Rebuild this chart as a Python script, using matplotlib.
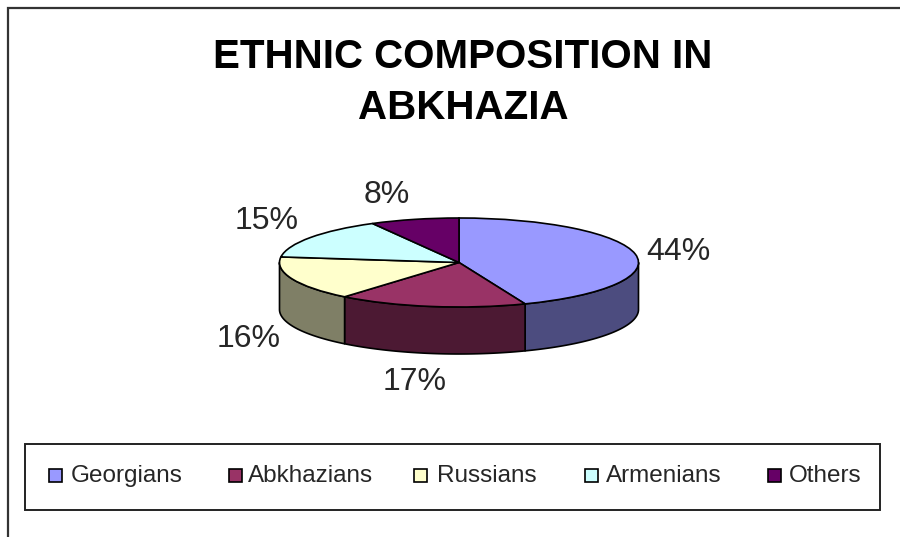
import numpy as np
import matplotlib
matplotlib.use("Agg")
import matplotlib.pyplot as plt
from matplotlib.patches import Rectangle

plt.rcParams["font.family"] = ["Liberation Sans", "DejaVu Sans"]

title_lines = ["ETHNIC COMPOSITION IN", "ABKHAZIA"]
groups = ["Georgians", "Abkhazians", "Russians", "Armenians", "Others"]
shares = [44, 17, 16, 15, 8]
top_colors = ["#9999FF", "#993366", "#FFFFCC", "#CCFFFF", "#660066"]
side_colors = ["#4C4C7F", "#4C1933", "#7F7F66", "#667F7F", "#330033"]

W, H = 900, 537
fig = plt.figure(figsize=(W / 100, H / 100), dpi=100)

# page layer in pixel coordinates
page = fig.add_axes([0, 0, 1, 1])
page.set_xlim(0, W)
page.set_ylim(H, 0)
page.axis("off")

# outer chart border, only left and top are inside the crop
page.plot([8, 8, W], [H, 8, 8], color="#333333", lw=1.6, solid_joinstyle="miter")

page.text(463, 68, title_lines[0], ha="center", va="baseline", fontsize=29,
          fontweight="bold", color="black")
page.text(463, 119, title_lines[1], ha="center", va="baseline", fontsize=29,
          fontweight="bold", color="black")

# pie axes: unit circle squashed into the disc ellipse
cx, cy, rx, ry = 459, 262.5, 179.5, 44.5
depth = 47 / ry
pie_ax = fig.add_axes([(cx - rx) / W, 1 - (cy + ry + depth * ry) / H,
                       2 * rx / W, (2 * ry + depth * ry) / H])

# side wall, clockwise angle measured from 12 o'clock, front half only
edges = np.radians(np.cumsum([0] + shares) * 3.6)
for i in range(len(shares)):
    a = max(edges[i], np.pi / 2)
    b = min(edges[i + 1], 3 * np.pi / 2)
    if a >= b:
        continue
    t = np.linspace(a, b, 60)
    x = np.sin(t)
    y = np.cos(t)
    pie_ax.fill(np.r_[x, x[::-1]], np.r_[y, y[::-1] - depth],
                facecolor=side_colors[i], edgecolor="black", lw=1.2,
                joinstyle="round", clip_on=False)

pie_ax.pie(shares, colors=top_colors, startangle=90, counterclock=False,
           radius=1, wedgeprops={"edgecolor": "black", "linewidth": 1.2},
           frame=True)
pie_ax.set_aspect("auto")
pie_ax.set_xlim(-1, 1)
pie_ax.set_ylim(-1 - depth, 1)
pie_ax.axis("off")
for p in pie_ax.patches:
    p.set_clip_on(False)

# value labels around the disc
label_x = [678, 415, 249, 267, 387]
label_y = [260, 390, 347, 229, 203]
for v, lx, ly in zip(shares, label_x, label_y):
    page.text(lx, ly, f"{v}%", ha="center", va="baseline", fontsize=23,
              color="#262626")

# legend box
page.add_patch(Rectangle((25, 444), 855, 66, facecolor="white",
                         edgecolor="#222222", lw=1.4))
swatch_x = [49, 229, 414, 585, 768]
text_x = [71, 248, 437, 606, 789]
for name, col, sx, tx in zip(groups, top_colors, swatch_x, text_x):
    page.add_patch(Rectangle((sx, 469), 13, 13, facecolor=col,
                             edgecolor="black", lw=1.2))
    page.text(tx, 482, name, ha="left", va="baseline", fontsize=17.5,
              color="#262626")

fig.savefig("out.png", dpi=100, facecolor="white")
